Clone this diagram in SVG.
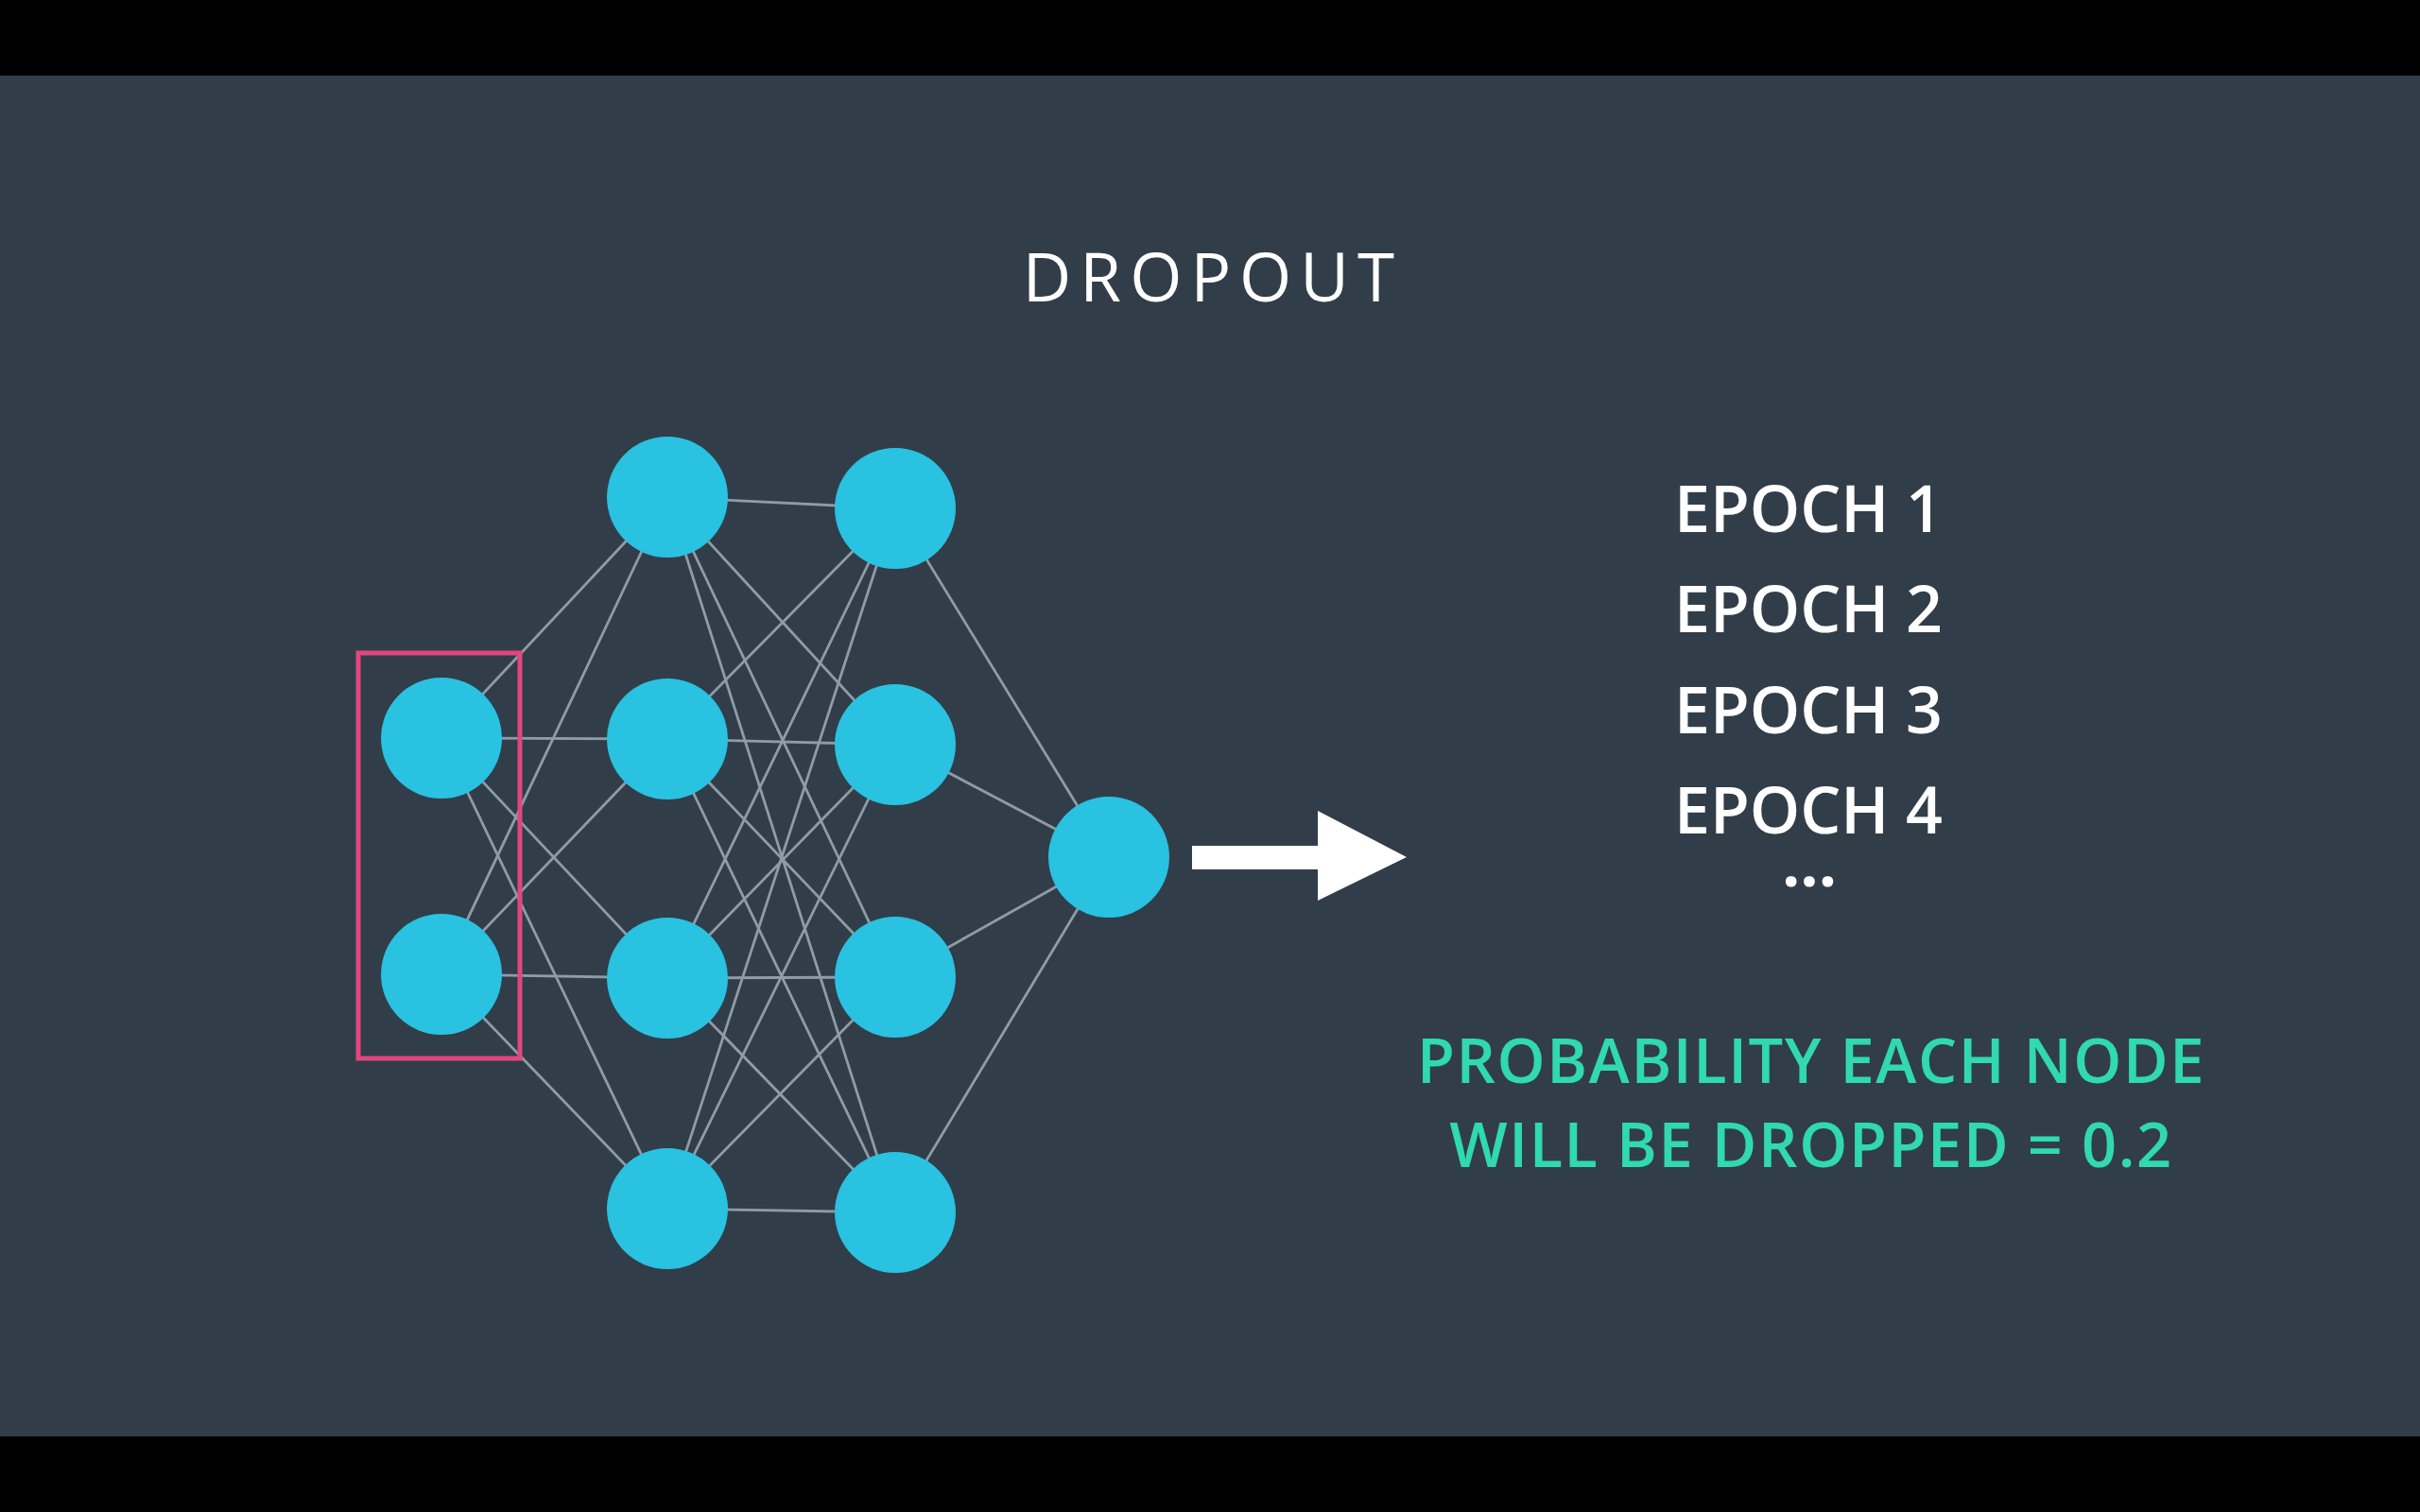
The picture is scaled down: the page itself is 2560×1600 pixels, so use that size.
<svg xmlns="http://www.w3.org/2000/svg" width="2560" height="1600" viewBox="0 0 2560 1600">
<defs>
<style>
.bar{fill:#000}
.edge{stroke:#909ba8;stroke-width:2.8;fill:none}
.node{fill:#29c2e0}
.title{font-family:"Open Sans","Liberation Sans",sans-serif;font-weight:400;font-size:71px;fill:#ffffff;letter-spacing:9px;text-anchor:middle}
.epoch{font-family:"Open Sans","Liberation Sans",sans-serif;font-weight:600;font-size:68px;fill:#ffffff;text-anchor:middle}
.prob{font-family:"Open Sans","Liberation Sans",sans-serif;font-weight:600;font-size:65px;fill:#30d9b0;letter-spacing:1.6px;text-anchor:middle}
</style>
</defs>
<rect x="0" y="0" width="2560" height="1600" fill="#323d4a"/>
<rect class="bar" x="0" y="0" width="2560" height="80"/>
<rect class="bar" x="0" y="1520" width="2560" height="80"/>

<text class="title" x="1283" y="319">DROPOUT</text>

<g id="connectors">
<line class="edge" x1="467" y1="781" x2="706" y2="526"/>
<line class="edge" x1="467" y1="781" x2="706" y2="782"/>
<line class="edge" x1="467" y1="781" x2="706" y2="1035"/>
<line class="edge" x1="467" y1="781" x2="706" y2="1279"/>
<line class="edge" x1="467" y1="1031" x2="706" y2="526"/>
<line class="edge" x1="467" y1="1031" x2="706" y2="782"/>
<line class="edge" x1="467" y1="1031" x2="706" y2="1035"/>
<line class="edge" x1="467" y1="1031" x2="706" y2="1279"/>
<line class="edge" x1="706" y1="526" x2="947" y2="538"/>
<line class="edge" x1="706" y1="526" x2="947" y2="788"/>
<line class="edge" x1="706" y1="526" x2="947" y2="1034"/>
<line class="edge" x1="706" y1="526" x2="947" y2="1283"/>
<line class="edge" x1="706" y1="782" x2="947" y2="538"/>
<line class="edge" x1="706" y1="782" x2="947" y2="788"/>
<line class="edge" x1="706" y1="782" x2="947" y2="1034"/>
<line class="edge" x1="706" y1="782" x2="947" y2="1283"/>
<line class="edge" x1="706" y1="1035" x2="947" y2="538"/>
<line class="edge" x1="706" y1="1035" x2="947" y2="788"/>
<line class="edge" x1="706" y1="1035" x2="947" y2="1034"/>
<line class="edge" x1="706" y1="1035" x2="947" y2="1283"/>
<line class="edge" x1="706" y1="1279" x2="947" y2="538"/>
<line class="edge" x1="706" y1="1279" x2="947" y2="788"/>
<line class="edge" x1="706" y1="1279" x2="947" y2="1034"/>
<line class="edge" x1="706" y1="1279" x2="947" y2="1283"/>
<line class="edge" x1="947" y1="538" x2="1173" y2="907"/>
<line class="edge" x1="947" y1="788" x2="1173" y2="907"/>
<line class="edge" x1="947" y1="1034" x2="1173" y2="907"/>
<line class="edge" x1="947" y1="1283" x2="1173" y2="907"/>
</g>

<g id="input-1"><circle class="node" cx="467" cy="781" r="64"/></g>
<g id="input-2"><circle class="node" cx="467" cy="1031" r="64"/></g>
<g id="hidden1-1"><circle class="node" cx="706" cy="526" r="64"/></g>
<g id="hidden1-2"><circle class="node" cx="706" cy="782" r="64"/></g>
<g id="hidden1-3"><circle class="node" cx="706" cy="1035" r="64"/></g>
<g id="hidden1-4"><circle class="node" cx="706" cy="1279" r="64"/></g>
<g id="hidden2-1"><circle class="node" cx="947" cy="538" r="64"/></g>
<g id="hidden2-2"><circle class="node" cx="947" cy="788" r="64"/></g>
<g id="hidden2-3"><circle class="node" cx="947" cy="1034" r="64"/></g>
<g id="hidden2-4"><circle class="node" cx="947" cy="1283" r="64"/></g>
<g id="output"><circle class="node" cx="1173" cy="907" r="64"/></g>

<g id="input-highlight"><rect x="379" y="691" width="171" height="429" fill="none" stroke="#e2467f" stroke-width="5"/></g>

<g id="arrow"><polygon points="1261,895 1394,895 1394,858 1488,907 1394,953 1394,920 1261,920" fill="#ffffff"/></g>

<g id="epochs">
<text class="epoch" x="1913" y="563">EPOCH 1</text>
<text class="epoch" x="1913" y="669">EPOCH 2</text>
<text class="epoch" x="1913" y="776">EPOCH 3</text>
<text class="epoch" x="1913" y="882">EPOCH 4</text>
<text class="epoch" x="1914" y="938" style="font-weight:700">...</text>
</g>

<g id="probability">
<text class="prob" x="1916" y="1146">PROBABILITY EACH NODE</text>
<text class="prob" x="1916" y="1235">WILL BE DROPPED = 0.2</text>
</g>
</svg>
